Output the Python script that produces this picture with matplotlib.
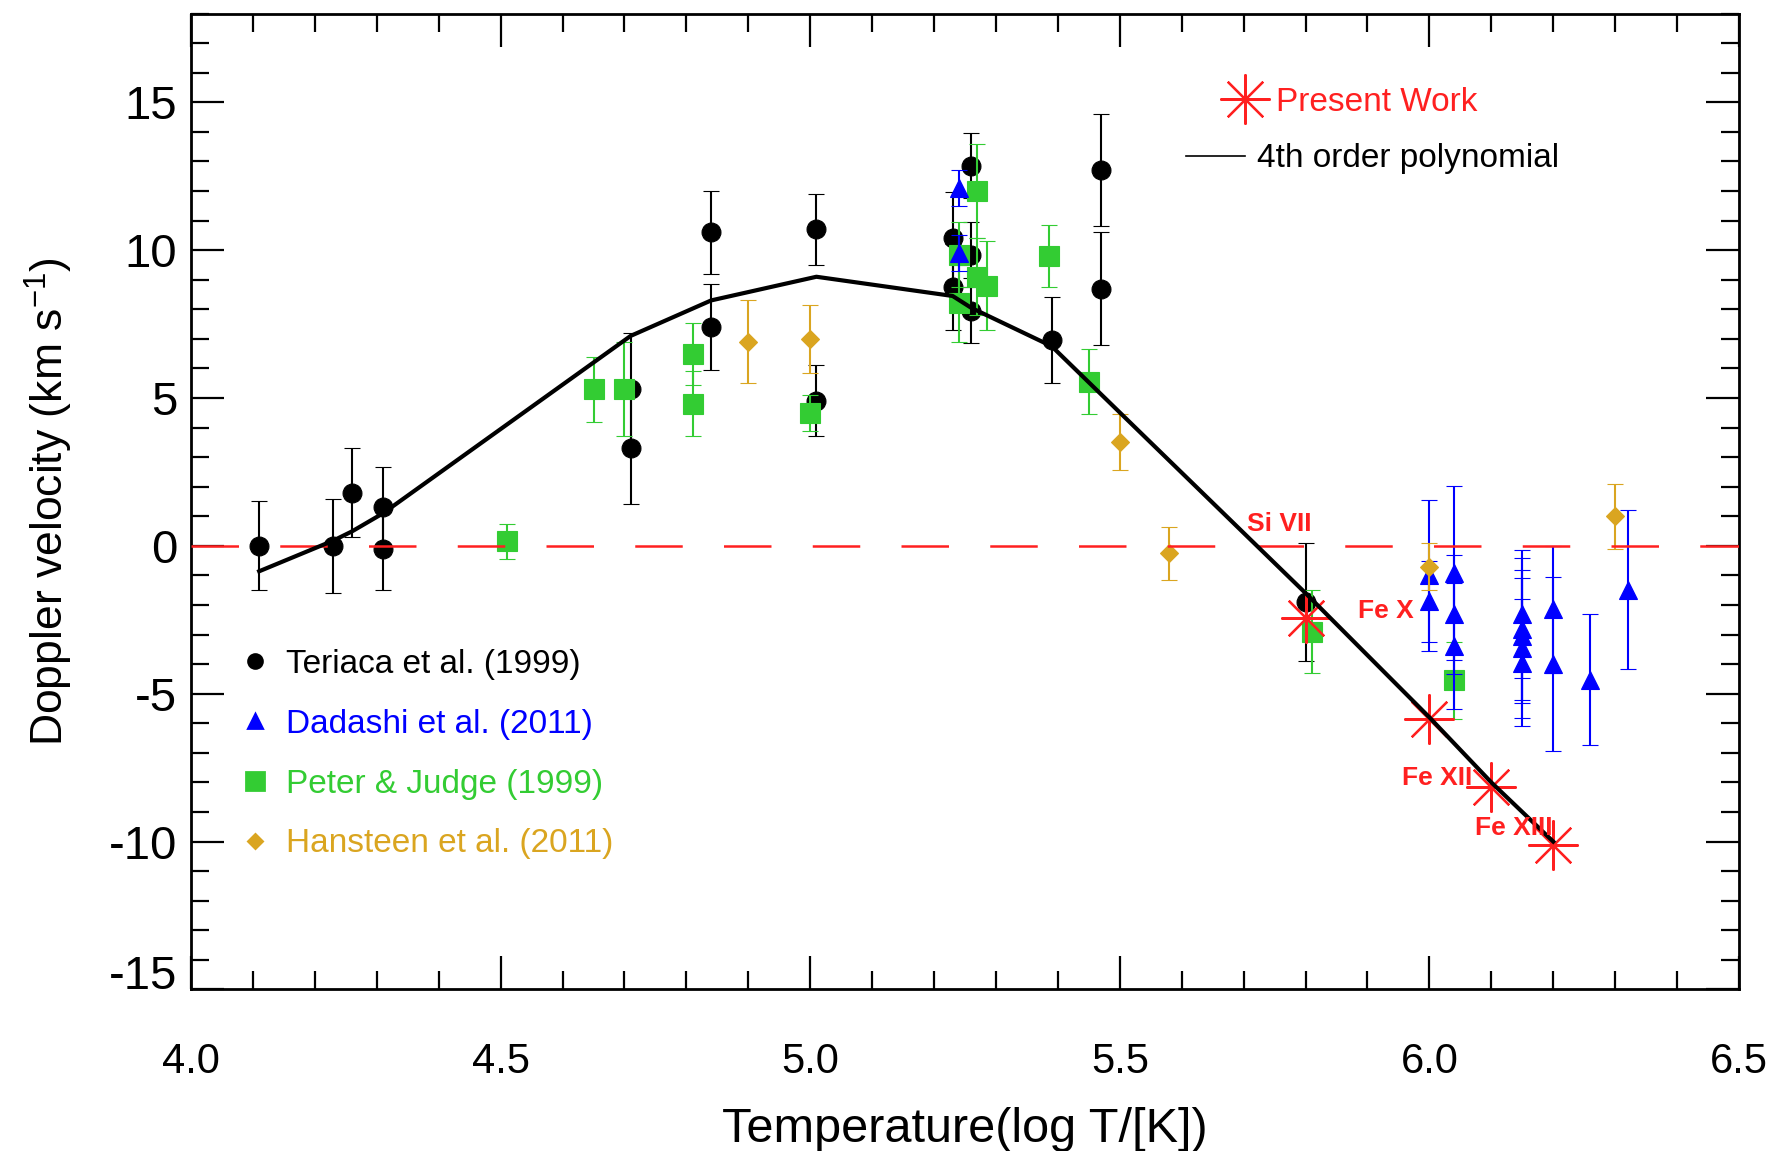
import matplotlib
matplotlib.use("Agg")
import matplotlib.pyplot as plt
from matplotlib.lines import Line2D
from matplotlib.ticker import MultipleLocator, FormatStrFormatter

plt.rcParams['font.family'] = ['Liberation Sans', 'DejaVu Sans']
plt.rcParams['mathtext.fontset'] = 'custom'
plt.rcParams['mathtext.rm'] = 'Liberation Sans'
plt.rcParams['mathtext.default'] = 'regular'
plt.rcParams['axes.unicode_minus'] = False

# Teriaca et al. (1999)
teriaca_x = [4.11, 4.23, 4.26, 4.31, 4.31, 4.71, 4.71, 4.84, 4.84, 5.01, 5.01,
             5.23, 5.23, 5.26, 5.26, 5.26, 5.39, 5.47, 5.47, 5.80]
teriaca_y = [0.0, 0.0, 1.8, 1.3, -0.1, 5.3, 3.3, 10.6, 7.4, 10.7, 4.9,
             10.4, 8.75, 12.85, 9.85, 7.95, 6.95, 12.7, 8.7, -1.9]
teriaca_err = [1.5, 1.6, 1.5, 1.35, 1.4, 1.9, 1.9, 1.4, 1.45, 1.2, 1.2,
               1.55, 1.45, 1.1, 1.1, 1.1, 1.45, 1.9, 1.9, 2.0]

# Dadashi et al. (2011)
dadashi_x = [5.24, 5.24, 6.0, 6.0, 6.04, 6.04, 6.04, 6.15, 6.15, 6.15, 6.15, 6.15,
             6.2, 6.2, 6.26, 6.32]
dadashi_y = [12.1, 9.9, -1.0, -1.87, -0.92, -2.32, -3.39, -2.3, -2.8, -3.05, -3.45, -3.95,
             -2.15, -4.0, -4.52, -1.48]
dadashi_err = [0.6, 0.6, 2.55, 1.37, 2.93, 2.0, 2.14, 2.17, 2.4, 2.25, 2.37, 2.15,
               2.15, 2.95, 2.2, 2.7]

# Peter & Judge (1999)
peter_x = [4.51, 4.65, 4.70, 4.81, 4.81, 5.00, 5.24, 5.24, 5.27, 5.27, 5.285,
           5.385, 5.45, 5.81, 6.04]
peter_y = [0.15, 5.3, 5.3, 6.5, 4.8, 4.5, 9.85, 8.2, 12.0, 9.1, 8.8,
           9.8, 5.55, -2.9, -4.55]
peter_err = [0.6, 1.1, 1.6, 1.05, 1.1, 0.6, 1.1, 1.3, 1.6, 1.3, 1.5,
             1.05, 1.1, 1.4, 1.3]

# Hansteen et al. (2011)
hansteen_x = [4.90, 5.00, 5.50, 5.58, 6.00, 6.30]
hansteen_y = [6.9, 7.0, 3.5, -0.25, -0.7, 1.0]
hansteen_err = [1.4, 1.15, 0.95, 0.9, 0.8, 1.1]

# present work
present_x = [5.8, 6.0, 6.1, 6.2]
present_y = [-2.45, -5.87, -8.15, -10.1]

# 4th order polynomial, evaluated at the line temperatures
poly_x = [4.11, 4.23, 4.26, 4.31, 4.71, 4.84, 5.01, 5.23, 5.26, 5.39, 5.47,
          5.80, 6.00, 6.10, 6.20]
poly_y = [-0.86, 0.18, 0.49, 1.1, 7.1, 8.3, 9.1, 8.45, 8.05, 6.75, 5.12,
          -1.6, -5.8, -8.0, -10.0]

ion_labels = ['Si VII', 'Fe X', 'Fe XII', 'Fe XIII']
ion_x = [5.705, 5.884, 5.955, 6.073]
ion_y = [0.75, -2.21, -7.85, -9.55]

series_labels = ['Teriaca et al. (1999)', 'Dadashi et al. (2011)',
                 'Peter & Judge (1999)', 'Hansteen et al. (2011)']
c_black = 'black'
c_blue = '#0000ff'
c_green = '#33cc33'
c_gold = '#daa520'
c_red = '#ff2020'

fig = plt.figure(figsize=(8.895, 5.755), dpi=200)
ax = fig.add_axes([0.1074, 0.1404, 0.8701, 0.8478])


def draw_set(x, y, e, marker, color, ms, z):
    ax.errorbar(x, y, yerr=e, fmt=marker, color=color, ms=ms, mec=color, mew=0.4,
                elinewidth=0.75, capsize=3, capthick=0.75, zorder=z)


draw_set(teriaca_x, teriaca_y, teriaca_err, 'o', c_black, 6.8, 2)
draw_set(peter_x, peter_y, peter_err, 's', c_green, 7.2, 3)
draw_set(dadashi_x, dadashi_y, dadashi_err, '^', c_blue, 6.3, 4)
draw_set(hansteen_x, hansteen_y, hansteen_err, 'D', c_gold, 4.6, 5)

ax.axhline(0, color=c_red, lw=0.9, dashes=(19, 16.5), zorder=6)

ax.plot(present_x, present_y, ls='none', marker=(8, 2, 0), ms=18, mew=0.8,
        color=c_red, zorder=7)
ax.plot(poly_x, poly_y, color='black', lw=1.5, zorder=8)

for lab, lx, ly in zip(ion_labels, ion_x, ion_y):
    ax.text(lx, ly, lab, color=c_red, fontsize=9.5, fontweight='bold',
            ha='left', va='center', zorder=9)

ax.set_xlim(4.0, 6.5)
ax.set_ylim(-15, 18)
ax.xaxis.set_major_locator(MultipleLocator(0.5))
ax.xaxis.set_minor_locator(MultipleLocator(0.1))
ax.xaxis.set_major_formatter(FormatStrFormatter('%.1f'))
ax.yaxis.set_major_locator(MultipleLocator(5))
ax.yaxis.set_minor_locator(MultipleLocator(1))
ax.tick_params(which='both', direction='in', top=True, right=True, width=0.8)
ax.tick_params(which='major', length=11.9)
ax.tick_params(which='minor', length=6.5)
ax.tick_params(axis='x', labelsize=15, pad=19)
ax.tick_params(axis='y', labelsize=17, pad=5)
for sp in ax.spines.values():
    sp.set_linewidth(1.0)

# the bottom y label sits a little higher, as in the original
for tick, loc in zip(ax.yaxis.get_major_ticks(), ax.yaxis.get_majorticklocs()):
    if abs(loc + 15) < 1e-6:
        tick.label1.set_va('baseline')

ax.set_xlabel('Temperature(log T/[K])', fontsize=17.5, labelpad=9)
ax.set_ylabel('Doppler velocity (km s$^{-1}$)', fontsize=16, labelpad=12)

handles = [Line2D([], [], ls='none', marker='o', color=c_black, ms=5.0),
           Line2D([], [], ls='none', marker='^', color=c_blue, ms=5.0),
           Line2D([], [], ls='none', marker='s', color=c_green, ms=6.5),
           Line2D([], [], ls='none', marker='D', color=c_gold, ms=3.7)]
leg1 = ax.legend(handles, series_labels, loc='upper left', bbox_to_anchor=(0.0304, 0.349),
                 frameon=False, fontsize=12, handlelength=1.0, handletextpad=0.44,
                 labelspacing=0.865, borderpad=0, borderaxespad=0,
                 labelcolor=[c_black, c_blue, c_green, c_gold])
ax.add_artist(leg1)

leg2 = ax.legend([Line2D([], [], ls='none', marker=(8, 2, 0), ms=18, mew=0.8, color=c_red)],
                 ['Present Work'], loc='upper left', bbox_to_anchor=(0.665, 0.925),
                 frameon=False, fontsize=12, handlelength=1.5, handletextpad=0.17,
                 borderpad=0, borderaxespad=0, labelcolor=c_red)
ax.add_artist(leg2)

ax.legend([Line2D([], [], color='black', lw=0.6)], ['4th order polynomial'],
          loc='upper left', bbox_to_anchor=(0.6426, 0.867), frameon=False, fontsize=12,
          handlelength=1.77, handletextpad=0.37, borderpad=0, borderaxespad=0)

fig.savefig('out.png', dpi=200)
